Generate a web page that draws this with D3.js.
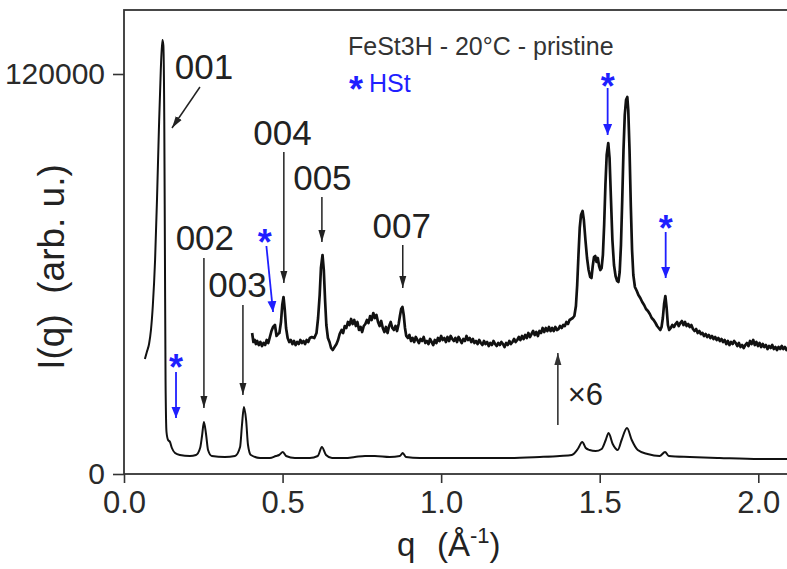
<!DOCTYPE html>
<html>
<head>
<meta charset="utf-8">
<script src="https://cdn.jsdelivr.net/npm/d3@7"></script>
<style>
  body { margin: 0; background: #fff; }
  svg { display: block; }
  text { font-family: "Liberation Sans", Arial, Helvetica, sans-serif; }
</style>
</head>
<body>
<svg id="chart" width="787" height="569"></svg>
<script>
// ---- Axis ticks ----
const xMajorTicks = [0, 0.5, 1.0, 1.5, 2.0];
const xTickLabels = ["0.0", "0.5", "1.0", "1.5", "2.0"];
const xMinorTicks = [0.1, 0.2, 0.3, 0.4, 0.6, 0.7, 0.8, 0.9, 1.1, 1.2, 1.3, 1.4, 1.6, 1.7, 1.8, 1.9, 2.1];
const yMajorTicks = [0, 120000];
const yTickLabels = ["0", "120000"];
const yMinorTicks = [20000, 40000, 60000, 80000, 100000];

// ---- Full-scale SAXS/WAXS trace: [q (Å^-1), I(q)] ----
const scanFull = [
  [0.066, 34500], [0.072, 36600], [0.079, 39000], [0.085, 43200], [0.091, 50700],
  [0.098, 64200], [0.104, 82200], [0.110, 103200], [0.116, 121200], [0.121, 130200],
  [0.124, 128700], [0.127, 106200], [0.129, 67200], [0.131, 28200], [0.134, 12600],
  [0.139, 10200], [0.145, 9600], [0.151, 7800], [0.161, 6300], [0.176, 5700],
  [0.208, 5400], [0.227, 5700], [0.240, 7800], [0.246, 11400], [0.252, 15600],
  [0.259, 11700], [0.265, 7200], [0.277, 5400], [0.318, 5100], [0.350, 5400],
  [0.366, 8100], [0.372, 14700], [0.378, 20100], [0.385, 16200], [0.391, 8700],
  [0.400, 5700], [0.429, 4800], [0.460, 4800], [0.479, 5400], [0.489, 5700],
  [0.501, 6600], [0.511, 5400], [0.539, 4800], [0.586, 4800], [0.611, 5400],
  [0.624, 8100], [0.637, 5700], [0.656, 4800], [0.697, 4800], [0.728, 5100],
  [0.760, 5400], [0.791, 5400], [0.838, 5100], [0.870, 5400], [0.879, 6300],
  [0.889, 5100], [0.933, 4800], [1.027, 4800], [1.122, 4800], [1.217, 4800],
  [1.311, 5100], [1.374, 5400], [1.412, 5700], [1.431, 7500], [1.445, 9600],
  [1.456, 7800], [1.468, 7200], [1.487, 6900], [1.506, 7500], [1.519, 10200],
  [1.528, 12300], [1.541, 9000], [1.557, 7200], [1.569, 10200], [1.586, 13800],
  [1.601, 10200], [1.620, 7200], [1.651, 6000], [1.689, 5400], [1.706, 6600],
  [1.718, 5400], [1.784, 5100], [1.878, 4800], [2.004, 4500], [2.100, 4500]
];

// ---- Same trace magnified ×6 and shifted up: [q, I(q)] ----
const scanX6 = [
  [0.404, 42300], [0.408, 39600], [0.412, 40200], [0.416, 39000], [0.420, 39900],
  [0.425, 38700], [0.430, 39600], [0.435, 38400], [0.440, 39300], [0.445, 38700],
  [0.450, 40200], [0.455, 39300], [0.460, 41100], [0.465, 42900], [0.470, 44100],
  [0.476, 44700], [0.481, 41400], [0.486, 42000], [0.490, 42300], [0.495, 45600],
  [0.499, 50700], [0.503, 53100], [0.507, 49200], [0.511, 43800], [0.516, 40800],
  [0.521, 39600], [0.526, 40200], [0.531, 39000], [0.536, 39900], [0.541, 38700],
  [0.546, 39600], [0.551, 39000], [0.556, 40200], [0.561, 39300], [0.566, 39900],
  [0.571, 39000], [0.576, 40200], [0.581, 39600], [0.586, 40800], [0.592, 41100],
  [0.600, 40800], [0.607, 42300], [0.612, 46800], [0.617, 53700], [0.621, 61800],
  [0.626, 65700], [0.630, 61200], [0.634, 52200], [0.638, 44700], [0.643, 40800],
  [0.648, 39600], [0.653, 37800], [0.658, 37200], [0.664, 38100], [0.670, 39000],
  [0.675, 40200], [0.680, 42000], [0.686, 43200], [0.691, 42300], [0.696, 44400],
  [0.701, 43800], [0.706, 45600], [0.711, 44700], [0.716, 46500], [0.721, 45000],
  [0.726, 46200], [0.731, 44400], [0.736, 45600], [0.741, 43200], [0.746, 44100],
  [0.751, 42600], [0.756, 44400], [0.761, 45000], [0.766, 46200], [0.771, 45300],
  [0.776, 47400], [0.781, 46200], [0.786, 48300], [0.791, 46800], [0.796, 47700],
  [0.801, 45600], [0.806, 44400], [0.811, 45900], [0.816, 43800], [0.821, 42600],
  [0.826, 44100], [0.831, 42300], [0.836, 44400], [0.841, 45600], [0.846, 43800],
  [0.851, 43200], [0.856, 44400], [0.861, 42900], [0.866, 45000], [0.870, 47400],
  [0.874, 49500], [0.878, 50100], [0.882, 47700], [0.886, 43800], [0.890, 41400],
  [0.895, 40800], [0.900, 41700], [0.905, 39900], [0.910, 40800], [0.915, 39600],
  [0.920, 41100], [0.925, 40200], [0.930, 39300], [0.935, 40500], [0.940, 39900],
  [0.945, 41100], [0.950, 39300], [0.955, 39900], [0.960, 39000], [0.965, 40500],
  [0.970, 39600], [0.975, 38700], [0.980, 40200], [0.985, 39300], [0.990, 40800],
  [0.995, 39900], [1.000, 41400], [1.005, 40200], [1.010, 40800], [1.015, 39600],
  [1.020, 41100], [1.025, 39900], [1.030, 41400], [1.035, 40500], [1.040, 39900],
  [1.045, 40800], [1.050, 39600], [1.055, 41100], [1.060, 40200], [1.065, 39300],
  [1.070, 40500], [1.075, 39900], [1.080, 41400], [1.085, 40200], [1.090, 40800],
  [1.095, 39600], [1.100, 40500], [1.105, 39300], [1.110, 39900], [1.115, 39000],
  [1.120, 40200], [1.125, 39300], [1.130, 38700], [1.135, 39900], [1.140, 39000],
  [1.145, 39600], [1.150, 38400], [1.155, 39300], [1.160, 38700], [1.165, 39900],
  [1.170, 39000], [1.175, 38400], [1.180, 39300], [1.185, 38700], [1.190, 39600],
  [1.195, 39000], [1.200, 38100], [1.205, 39300], [1.210, 38700], [1.215, 39900],
  [1.220, 39000], [1.225, 39600], [1.230, 40500], [1.235, 39600], [1.240, 40200],
  [1.245, 41100], [1.250, 40200], [1.255, 41400], [1.260, 40500], [1.265, 41700],
  [1.270, 40800], [1.275, 42300], [1.280, 41100], [1.285, 42000], [1.290, 42900],
  [1.295, 41700], [1.300, 42600], [1.305, 41400], [1.310, 42900], [1.315, 42300],
  [1.320, 43800], [1.325, 42600], [1.330, 43800], [1.335, 42900], [1.340, 44100],
  [1.345, 42900], [1.350, 43800], [1.355, 42900], [1.360, 44100], [1.365, 43200],
  [1.370, 43500], [1.375, 44400], [1.380, 43800], [1.385, 44700], [1.390, 44400],
  [1.395, 45600], [1.400, 45000], [1.405, 46200], [1.410, 46500], [1.415, 46800],
  [1.420, 47400], [1.425, 50400], [1.429, 56700], [1.433, 65700], [1.437, 73800],
  [1.441, 77700], [1.446, 78900], [1.450, 76200], [1.455, 70200], [1.460, 64800],
  [1.465, 61200], [1.470, 59100], [1.474, 58800], [1.478, 62400], [1.482, 65100],
  [1.486, 65400], [1.490, 63600], [1.494, 64800], [1.498, 62400], [1.502, 61200],
  [1.506, 61800], [1.510, 65700], [1.514, 74700], [1.518, 86700], [1.522, 95700],
  [1.527, 99300], [1.531, 94800], [1.535, 83700], [1.540, 70200], [1.545, 62700],
  [1.550, 59400], [1.555, 57900], [1.559, 57600], [1.563, 60600], [1.567, 68700],
  [1.571, 82200], [1.575, 97200], [1.579, 107700], [1.583, 112200], [1.587, 113100],
  [1.590, 109200], [1.594, 97200], [1.598, 80700], [1.602, 67200], [1.606, 59700],
  [1.611, 56100], [1.617, 54900], [1.622, 53700], [1.628, 52800], [1.634, 51600],
  [1.640, 50700], [1.646, 49500], [1.652, 48900], [1.658, 48000], [1.664, 46800],
  [1.670, 46200], [1.676, 45300], [1.681, 44400], [1.686, 43800], [1.691, 43200],
  [1.695, 44100], [1.699, 46800], [1.703, 51000], [1.707, 53400], [1.711, 49800],
  [1.715, 44700], [1.719, 43200], [1.724, 43800], [1.729, 44700], [1.734, 44100],
  [1.739, 45000], [1.744, 45600], [1.749, 44400], [1.754, 45300], [1.759, 45900],
  [1.764, 44700], [1.769, 45600], [1.774, 44400], [1.779, 45000], [1.784, 44100],
  [1.789, 44700], [1.794, 43500], [1.799, 42900], [1.804, 43500], [1.809, 42300],
  [1.814, 42900], [1.819, 42000], [1.824, 42300], [1.829, 41400], [1.834, 42000],
  [1.839, 41100], [1.844, 41700], [1.849, 40800], [1.854, 41400], [1.859, 40500],
  [1.864, 41100], [1.869, 40200], [1.874, 40800], [1.879, 39900], [1.884, 40500],
  [1.889, 39600], [1.894, 40200], [1.899, 39000], [1.904, 39900], [1.909, 38700],
  [1.914, 39600], [1.919, 39000], [1.924, 39900], [1.929, 39300], [1.934, 38400],
  [1.939, 39300], [1.944, 38100], [1.949, 38700], [1.954, 37800], [1.959, 38700],
  [1.964, 39300], [1.969, 38400], [1.974, 39900], [1.979, 39000], [1.984, 40200],
  [1.989, 38700], [1.994, 39600], [1.999, 38400], [2.004, 39300], [2.009, 38100],
  [2.014, 39000], [2.019, 38100], [2.024, 38700], [2.029, 37500], [2.034, 38400],
  [2.039, 37800], [2.044, 38700], [2.049, 37500], [2.054, 38100], [2.059, 37200],
  [2.064, 38100], [2.069, 37500], [2.074, 38400], [2.079, 37500], [2.084, 38100],
  [2.089, 37200], [2.094, 37800], [2.100, 37500]
];

// ---- Reflection labels: text, q, I at baseline ----
const reflectionNames = ["001", "002", "003", "004", "005", "007"];
const reflectionLabelQ = [0.252, 0.255, 0.358, 0.4995, 0.6256, 0.876];
const reflectionLabelI = [118500, 67200, 53100, 98700, 85200, 70800];
// arrows: [qStart, IStart, qEnd, IEnd]
const reflectionArrows = [
  [0.2395, 116100, 0.1513, 103800],
  [0.252, 64800, 0.252, 19800],
  [0.375, 50700, 0.375, 23700],
  [0.504, 96600, 0.504, 57300],
  [0.624, 83100, 0.624, 69600],
  [0.879, 68700, 0.879, 55800]
];

// ---- HSt (stearic acid) markers: star position and arrow ----
const hstStars = [[0.164, 34500], [0.444, 72000], [1.525, 118800], [1.708, 76200]];
const hstArrows = [
  [0.164, 30600, 0.164, 16800],
  [0.449, 68400, 0.470, 48600],
  [1.525, 115800, 1.525, 101700],
  [1.708, 72600, 1.708, 58800]
];

// ---- Magnification marker ----
const zoomArrow = [1.368, 14700, 1.368, 36300];
const zoomLabel = "×6";
const zoomLabelPos = [1.399, 20700];

const titleText = "FeSt3H - 20°C - pristine";
const legendText = "HSt";

// ---- Layout ----
const svg = d3.select("#chart");
const W = 787, H = 569;
const plot = { left: 124, top: 10, right: 790, bottom: 474 };

svg.append("rect").attr("width", W).attr("height", H).attr("fill", "#fff");

const x = d3.scaleLinear().domain([0, 2.1]).range([plot.left, plot.right]);
const y = d3.scaleLinear().domain([0, 139200]).range([plot.bottom, plot.top]);

const defs = svg.append("defs");
defs.append("marker")
  .attr("id", "headBlack").attr("markerUnits", "userSpaceOnUse")
  .attr("viewBox", "0 -4 12 8").attr("refX", 12).attr("refY", 0)
  .attr("markerWidth", 12).attr("markerHeight", 8).attr("orient", "auto")
  .append("path").attr("d", "M0,-3.5L12,0L0,3.5Z").attr("fill", "#222");
defs.append("marker")
  .attr("id", "headBlue").attr("markerUnits", "userSpaceOnUse")
  .attr("viewBox", "0 -5 11 10").attr("refX", 11).attr("refY", 0)
  .attr("markerWidth", 11).attr("markerHeight", 10).attr("orient", "auto")
  .append("path").attr("d", "M0,-4.5L11,0L0,4.5Z").attr("fill", "#1f1fff");
defs.append("marker")
  .attr("id", "headGrey").attr("markerUnits", "userSpaceOnUse")
  .attr("viewBox", "0 -4 12 8").attr("refX", 12).attr("refY", 0)
  .attr("markerWidth", 12).attr("markerHeight", 8).attr("orient", "auto")
  .append("path").attr("d", "M0,-3.5L12,0L0,3.5Z").attr("fill", "#333");

const axisColor = "#333";

// ---- Axes ----
const gx = svg.append("g").attr("transform", `translate(0,${plot.bottom})`);
gx.call(d3.axisBottom(x).tickValues(xMinorTicks).tickSize(5).tickFormat(""));
gx.call(d3.axisBottom(x).tickValues(xMajorTicks).tickSize(9)
  .tickFormat((d, i) => xTickLabels[i]).tickPadding(8));
gx.selectAll(".domain").remove();
gx.selectAll("line").attr("stroke", axisColor).attr("stroke-width", 1.6);
gx.selectAll("text").attr("font-size", 31).attr("fill", "#2a2a2a")
  .attr("font-family", '"Liberation Sans", Arial, sans-serif');

const gy = svg.append("g").attr("transform", `translate(${plot.left},0)`);
gy.call(d3.axisLeft(y).tickValues(yMinorTicks).tickSize(6).tickFormat(""));
gy.call(d3.axisLeft(y).tickValues(yMajorTicks).tickSize(11)
  .tickFormat((d, i) => yTickLabels[i]).tickPadding(8));
gy.selectAll(".domain").remove();
gy.selectAll("line").attr("stroke", axisColor).attr("stroke-width", 1.6);
gy.selectAll("text").attr("font-size", 30).attr("fill", "#2a2a2a")
  .attr("font-family", '"Liberation Sans", Arial, sans-serif');

// frame
svg.append("rect")
  .attr("x", plot.left).attr("y", plot.top)
  .attr("width", plot.right - plot.left).attr("height", plot.bottom - plot.top)
  .attr("fill", "none").attr("stroke", axisColor).attr("stroke-width", 1.8);

// ---- Traces ----
const lineFull = d3.line().x(d => x(d[0])).y(d => y(d[1])).curve(d3.curveMonotoneX);
const lineX6 = d3.line().x(d => x(d[0])).y(d => y(d[1])).curve(d3.curveLinear);

svg.append("path").datum(scanFull).attr("d", lineFull)
  .attr("fill", "none").attr("stroke", "#111").attr("stroke-width", 2)
  .attr("stroke-linejoin", "round");
svg.append("path").datum(scanX6).attr("d", lineX6)
  .attr("fill", "none").attr("stroke", "#111").attr("stroke-width", 2.7)
  .attr("stroke-linejoin", "round");

// ---- Reflection labels and arrows ----
svg.append("g").selectAll("line").data(reflectionArrows).join("line")
  .attr("x1", d => x(d[0])).attr("y1", d => y(d[1]))
  .attr("x2", d => x(d[2])).attr("y2", d => y(d[3]))
  .attr("stroke", "#222").attr("stroke-width", 1.5)
  .attr("marker-end", "url(#headBlack)");

svg.append("g").selectAll("text").data(reflectionNames).join("text")
  .attr("x", (d, i) => x(reflectionLabelQ[i]))
  .attr("y", (d, i) => y(reflectionLabelI[i]))
  .attr("text-anchor", "middle").attr("font-size", 35).attr("fill", "#222")
  .text(d => d);

// ---- HSt markers ----
svg.append("g").selectAll("line").data(hstArrows).join("line")
  .attr("x1", d => x(d[0])).attr("y1", d => y(d[1]))
  .attr("x2", d => x(d[2])).attr("y2", d => y(d[3]))
  .attr("stroke", "#1f1fff").attr("stroke-width", 1.8)
  .attr("marker-end", "url(#headBlue)");

svg.append("g").selectAll("text").data(hstStars).join("text")
  .attr("x", d => x(d[0])).attr("y", d => y(d[1]) + 21)
  .attr("text-anchor", "middle").attr("font-size", 36).attr("font-weight", "bold")
  .attr("fill", "#1f1fff").text("*");

// ---- ×6 marker ----
svg.append("line")
  .attr("x1", x(zoomArrow[0])).attr("y1", y(zoomArrow[1]))
  .attr("x2", x(zoomArrow[2])).attr("y2", y(zoomArrow[3]))
  .attr("stroke", "#333").attr("stroke-width", 1.6)
  .attr("marker-end", "url(#headGrey)");
svg.append("text")
  .attr("x", x(zoomLabelPos[0])).attr("y", y(zoomLabelPos[1]))
  .attr("font-size", 31).attr("fill", "#222").text(zoomLabel);

// ---- Legend ----
svg.append("text").attr("x", 348).attr("y", 55)
  .attr("font-size", 25).attr("fill", "#333").text(titleText);
svg.append("text").attr("x", 356).attr("y", 102)
  .attr("text-anchor", "middle").attr("font-size", 36).attr("font-weight", "bold")
  .attr("fill", "#1f1fff").text("*");
svg.append("text").attr("x", 369).attr("y", 92)
  .attr("font-size", 25).attr("fill", "#1f1fff").text(legendText);

// ---- Axis titles ----
const xTitle = svg.append("text").attr("y", 556).attr("font-size", 33).attr("fill", "#222");
xTitle.append("tspan").attr("x", 397).text("q");
xTitle.append("tspan").attr("x", 437).text("(Å");
xTitle.append("tspan").attr("dy", -13).attr("font-size", 22).text("-1");
xTitle.append("tspan").attr("dy", 13).text(")");

svg.append("text")
  .attr("transform", "translate(64,267) rotate(-90)")
  .attr("text-anchor", "middle").attr("font-size", 37).attr("fill", "#222")
  .style("white-space", "pre")
  .text("I(q)  (arb. u.)");
</script>
</body>
</html>
